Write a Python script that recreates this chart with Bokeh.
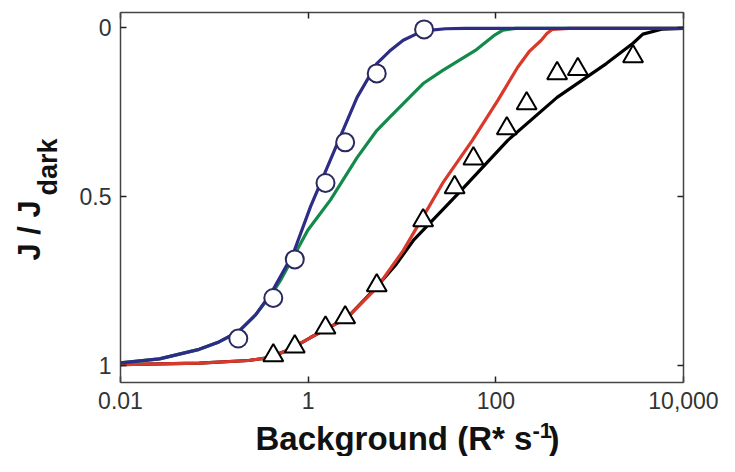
import numpy as np
from bokeh.plotting import figure
from bokeh.layouts import row, column
from bokeh.models import (Range1d, FixedTicker, NumeralTickFormatter, LogAxis,
                          LinearAxis, Label)
from bokeh.embed import file_html
from bokeh.resources import INLINE

# ---- data ----
blue_x = [0.01, 0.026, 0.069, 0.112, 0.18, 0.275, 0.405, 0.69, 1.06, 2.05, 3.32,
          5.38, 7.38, 10.3, 14.1, 19.4, 29, 47, 10000]
blue_y = [0.992, 0.98, 0.952, 0.93, 0.90, 0.85, 0.785, 0.67, 0.53, 0.343, 0.207,
          0.107, 0.07, 0.038, 0.02, 0.009, 0.004, 0.003, 0.003]

green_x = [0.01, 0.026, 0.069, 0.112, 0.18, 0.275, 0.405, 0.515, 0.99, 1.73, 3.32,
           5.38, 7.38, 12.0, 16.8, 27.2, 60.5, 82.8, 98, 119, 163, 10000]
green_y = [0.992, 0.98, 0.952, 0.93, 0.90, 0.85, 0.79, 0.745, 0.60, 0.51, 0.385,
           0.305, 0.266, 0.207, 0.166, 0.127, 0.068, 0.038, 0.022, 0.008, 0.003, 0.003]

red_x = [0.01, 0.069, 0.232, 0.35, 0.61, 1.06, 2.61, 5.38, 10.3, 19.4, 27.2, 56.2,
         105, 171, 229, 305, 350, 398, 600, 10000]
red_y = [0.997, 0.993, 0.985, 0.978, 0.955, 0.917, 0.858, 0.77, 0.66, 0.53, 0.46,
         0.334, 0.216, 0.118, 0.07, 0.038, 0.018, 0.006, 0.003, 0.003]

black_x = [0.01, 0.069, 0.232, 0.35, 0.61, 1.06, 2.61, 5.38, 8.7, 13.2, 40.1, 134,
           450, 1507, 2897, 3690, 5980, 10000]
black_y = [0.997, 0.993, 0.985, 0.978, 0.955, 0.917, 0.858, 0.767, 0.70, 0.63, 0.49,
           0.334, 0.207, 0.107, 0.047, 0.02, 0.005, 0.003]

circle_x = [0.18, 0.425, 0.72, 1.53, 2.48, 5.38, 17.2]
circle_y = [0.92, 0.80, 0.686, 0.46, 0.34, 0.136, 0.006]

tri_x = [0.425, 0.72, 1.53, 2.48, 5.38, 16.8, 36.4, 57.7, 131, 213, 450, 748, 2900]
tri_y = [0.970, 0.944, 0.888, 0.858, 0.763, 0.571, 0.473, 0.388, 0.299, 0.225,
         0.136, 0.124, 0.086]

x_ticks = [0.01, 1, 100, 10000]
y_ticks = [0, 0.5, 1]

# ---- layout (pixel geometry) ----
W, H = 719, 456
LW = 64            # width of the y-title strip
BH = 39            # height of the x-title strip
MW, MH = W - LW, H - BH
FL, FT, FR, FB = 120 - LW, 12, 683 - LW, 382
FONT = "Liberation Sans"


def blank(w, h, **kw):
    f = figure(width=w, height=h, x_range=Range1d(0, 1), y_range=Range1d(0, 1),
               x_axis_location=None, y_axis_location=None,
               output_backend="svg", toolbar_location=None, min_border=0, **kw)
    f.grid.visible = False
    f.outline_line_color = None
    f.background_fill_color = "white"
    f.border_fill_color = "white"
    return f


p = figure(width=MW, height=MH, x_axis_type="log",
           x_range=Range1d(0.01, 10000), y_range=Range1d(1.05, -0.044),
           output_backend="svg", toolbar_location=None,
           min_border_left=FL, min_border_right=MW - FR,
           min_border_top=FT, min_border_bottom=MH - FB)
p.grid.visible = False
p.outline_line_color = None
p.background_fill_color = "white"
p.border_fill_color = "white"

AX_COL = "#444444"


def style_axis(ax, show_labels):
    ax.axis_line_color = AX_COL
    ax.axis_line_width = 1.5
    ax.major_tick_line_color = "#222222"
    ax.major_tick_line_width = 1.5
    ax.major_tick_in = 6
    ax.major_tick_out = 0
    ax.minor_tick_in = 0
    ax.minor_tick_out = 0
    if show_labels:
        ax.major_label_text_font = FONT
        ax.major_label_text_font_size = "23px"
        ax.major_label_text_color = "#333333"
    else:
        ax.major_label_text_font_size = "2px"
        ax.major_label_text_alpha = 0.0
        ax.major_label_standoff = 0


xb = p.xaxis[0]
xb.ticker = FixedTicker(ticks=x_ticks)
xb.formatter = NumeralTickFormatter(format="0,0.[00]")
style_axis(xb, True)
xb.major_label_standoff = 9

yl = p.yaxis[0]
yl.ticker = FixedTicker(ticks=y_ticks)
yl.formatter = NumeralTickFormatter(format="0.[0]")
style_axis(yl, True)
yl.major_label_standoff = 9

xt = LogAxis(ticker=FixedTicker(ticks=x_ticks))
style_axis(xt, False)
p.add_layout(xt, "above")

yr = LinearAxis(ticker=FixedTicker(ticks=y_ticks))
style_axis(yr, False)
p.add_layout(yr, "right")

# ---- curves ----
p.line(black_x, black_y, line_width=3.2, color="#000000")
p.line(red_x, red_y, line_width=3.2, color="#D9392A")
p.line(green_x, green_y, line_width=3.2, color="#128A4A")
p.line(blue_x, blue_y, line_width=3.2, color="#2D2C86")

p.scatter(circle_x, circle_y, marker="circle", size=18, fill_color="white",
          line_color="#2A2A5E", line_width=2)
p.scatter(tri_x, tri_y, marker="triangle", size=20, fill_color="white",
          line_color="#000000", line_width=2)


# ---- axis titles (in their own strips) ----
def lab(fig, text, x, y, size, angle=0.0, baseline="alphabetic"):
    fig.add_layout(Label(x=x, y=y, x_units="screen", y_units="screen", text=text,
                         text_font=FONT, text_font_style="bold",
                         text_font_size=size, text_color="#111111",
                         text_align="left", text_baseline=baseline,
                         angle=angle))


pl = blank(LW, H)
lab(pl, "J / J", 29, H - 260, "31px", np.pi / 2)
lab(pl, "dark", 47, H - 195, "27px", np.pi / 2)

# x-title strip: frame aligned with the main frame (left edge at x = 120)
pb = blank(MW, BH, min_border_left=FL, min_border_right=MW - FR)
X0 = 120
lab(pb, "Background (R* s", 255 - X0, H - 437.5, "33px", baseline="middle")
lab(pb, "-1", 532 - X0, H - 430, "22px", baseline="middle")
lab(pb, ")", 548 - X0, H - 437.5, "33px", baseline="middle")

layout = row(pl, column(p, pb))

open("out.html", "w").write(file_html(layout, INLINE))
